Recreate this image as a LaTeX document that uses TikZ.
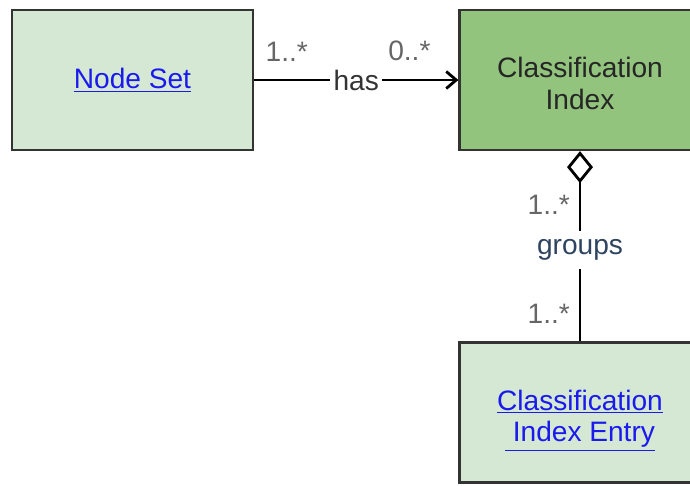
\documentclass[tikz,border=0pt]{standalone}
\usepackage{fontspec}
\setmainfont{Liberation Sans}
\usepackage{tikz}
\usetikzlibrary{arrows.meta}
\definecolor{paleGreen}{HTML}{D5E8D4}
\definecolor{midGreen}{HTML}{93C47D}
\definecolor{boxLine}{HTML}{333333}
\definecolor{linkBlue}{HTML}{1A1AEE}
\definecolor{multGray}{HTML}{666666}
\definecolor{relSlate}{HTML}{2E4460}
\newcommand{\lnk}[1]{\textcolor{linkBlue}{#1}}
\newcommand{\lowered}[1]{\raisebox{0pt}[\dimexpr\height+8pt\relax]{#1}}
\tikzset{
  umlbox/.style={draw=boxLine, line width=1.3pt, minimum width=4.82cm,
    minimum height=2.8cm, align=center, inner sep=0pt},
  assoc/.style={line width=1.6pt},
  rel/.style={fill=white, inner xsep=2pt, inner ysep=5pt},
  mult/.style={text=multGray, inner sep=1pt}
}

\begin{document}
\begin{tikzpicture}[x=0.02cm, y=-0.02cm, font=\fontsize{16}{18}\selectfont]
  \useasboundingbox (0,0) rectangle (690,485);
  \node [umlbox, fill=paleGreen] (NS) at (132.5, 80) {\lnk{\underline{Node Set}}};
  \node [umlbox, fill=midGreen, text=black!85] (CI) at (580, 80)
    {\lowered{\begin{tabular}{@{}c@{}}Classification\\Index\end{tabular}}};
  \node [umlbox, fill=paleGreen] (CE) at (580, 412.5)
    {\lowered{\begin{tabular}{@{}c@{}}\lnk{\underline{Classification}}\\
      \lnk{\underline{\ Index Entry}}\end{tabular}}};
  \draw [assoc, -{Straight Barb[length=0.2cm, width=0.34cm]}] (NS) --
    node [rel, text=black!80] {has}
    node [mult, pos=0.16, above=9pt] {1..*}
    node [mult, pos=0.76, above=9pt] {0..*} (CI);
  \draw [assoc, {Diamond[open, length=0.64cm, width=0.52cm]}-] (CI) --
    node [rel, text=relSlate, yshift=-2pt] {groups}
    node [mult, pos=0.28, left=4pt] {1..*}
    node [mult, pos=0.855, left=4pt] {1..*} (CE);
\end{tikzpicture}
\end{document}
